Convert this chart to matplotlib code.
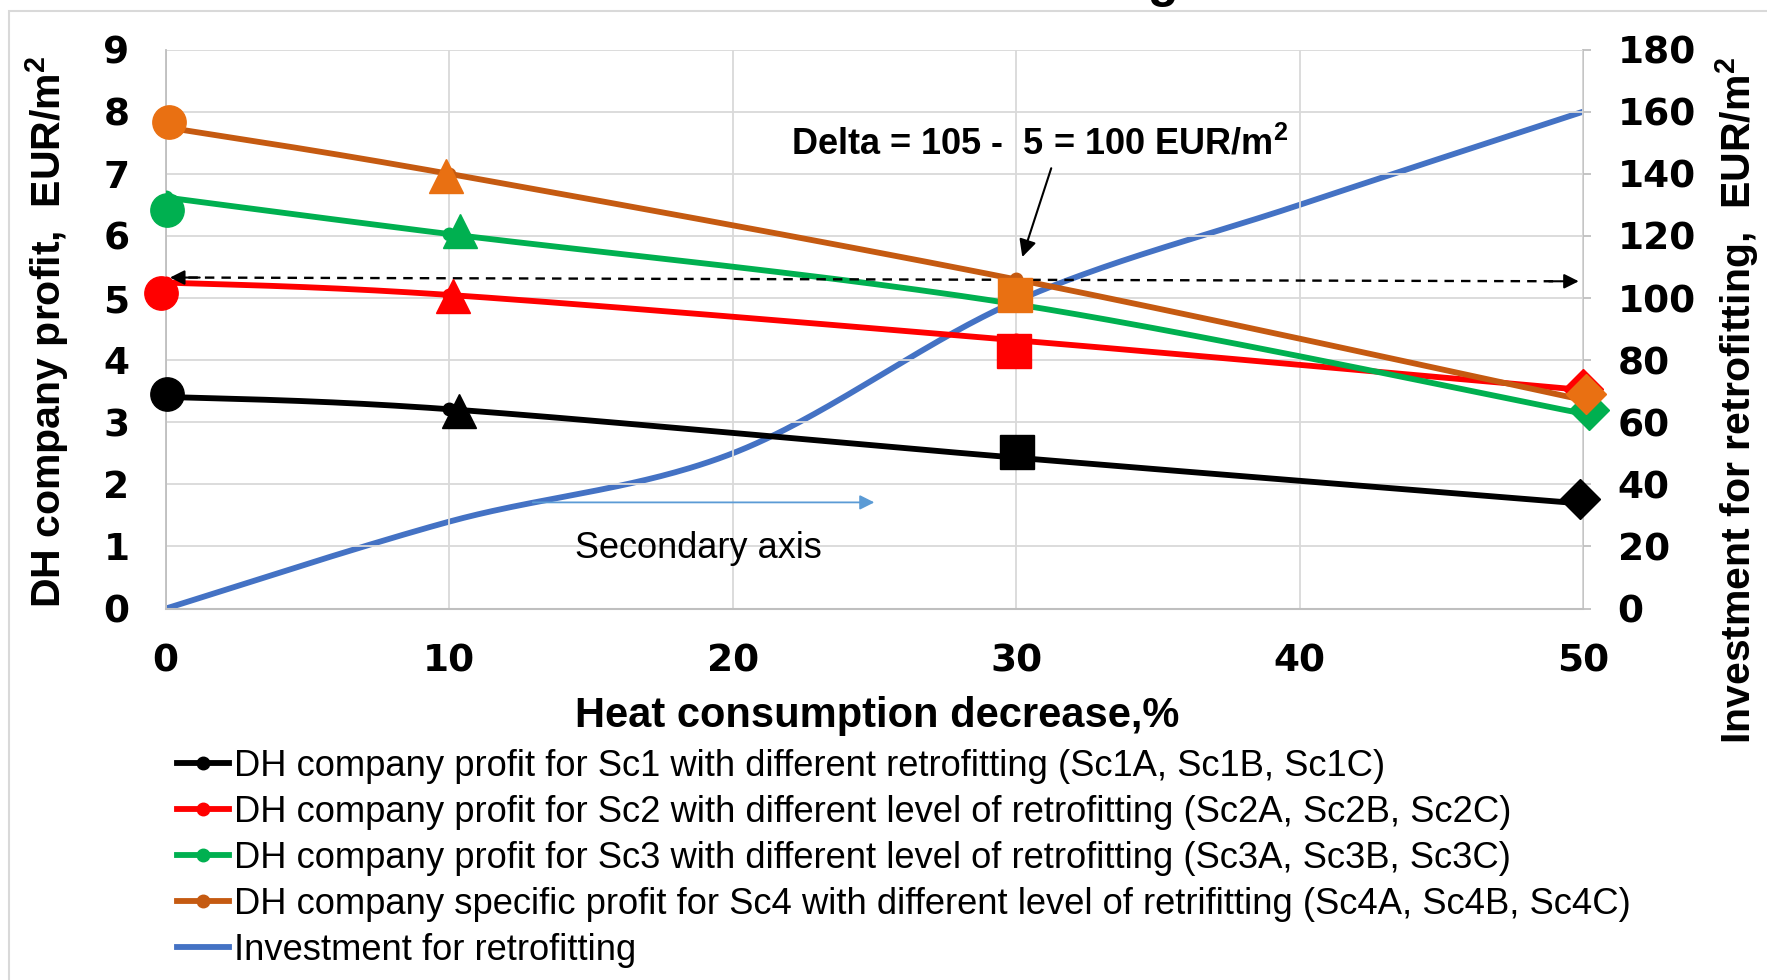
import numpy as np
import matplotlib
matplotlib.use("Agg")
import matplotlib.pyplot as plt
from matplotlib.lines import Line2D
from matplotlib.patches import Rectangle

plt.rcParams['font.family'] = ['Liberation Sans', 'DejaVu Sans']
plt.rcParams['mathtext.fontset'] = 'custom'
plt.rcParams['mathtext.rm'] = 'Liberation Sans'
plt.rcParams['mathtext.bf'] = 'Liberation Sans:bold'

# ---- data -------------------------------------------------------------
heat_decrease = [0, 10, 30, 50]                     # % decrease of heat consumption
profit_sc1 = [3.41, 3.21, 2.43, 1.69]
profit_sc2 = [5.25, 5.05, 4.32, 3.52]
profit_sc3 = [6.62, 6.03, 4.90, 3.14]
profit_sc4 = [7.75, 7.00, 5.30, 3.36]

invest_x = [0, 10, 20, 30, 40, 50]
investment = [0, 28, 50, 99, 130, 160]              # EUR/m2, secondary axis

# highlighted scenario points (A, B, C variants) per series
pts_sc1_x = [0.04, 10.33, 30.05, 49.9]
pts_sc1_y = [3.45, 3.18, 2.52, 1.77]
pts_sc2_x = [-0.16, 10.13, 29.93, 50.0]
pts_sc2_y = [5.08, 5.03, 4.14, 3.54]
pts_sc3_x = [0.04, 10.37, 50.2]
pts_sc3_y = [6.42, 6.08, 3.19]
pts_sc4_x = [0.12, 9.9, 29.97, 50.12]
pts_sc4_y = [7.84, 6.97, 5.05, 3.45]

legend_labels = [
    "DH company profit for Sc1 with different retrofitting (Sc1A, Sc1B, Sc1C)",
    "DH company profit for Sc2 with different level of retrofitting (Sc2A, Sc2B, Sc2C)",
    "DH company profit for Sc3 with different level of retrofitting (Sc3A, Sc3B, Sc3C)",
    "DH company specific profit for Sc4 with different level of retrifitting (Sc4A, Sc4B, Sc4C)",
    "Investment for retrofitting",
]

C_BLACK = "#000000"
C_RED = "#FF0000"
C_GREEN = "#00B050"
C_ORANGE_LINE = "#C55A11"
C_ORANGE_MARK = "#E97012"
C_BLUE = "#4472C4"
C_GRID = "#D9D9D9"


def smooth(x, y, n=60):
    """Piecewise cubic Bezier through the points (spreadsheet-style smoothing)."""
    p = np.column_stack([x, y]).astype(float)
    m = len(p)
    out = []
    t = np.linspace(0, 1, n)[:, None]
    for i in range(m - 1):
        p0 = p[max(i - 1, 0)]
        p1 = p[i]
        p2 = p[i + 1]
        p3 = p[min(i + 2, m - 1)]
        c1 = p1 + (p2 - p0) / 6.0
        c2 = p2 - (p3 - p1) / 6.0
        seg = ((1 - t) ** 3) * p1 + 3 * ((1 - t) ** 2) * t * c1 + 3 * (1 - t) * t ** 2 * c2 + t ** 3 * p2
        out.append(seg if i == 0 else seg[1:])
    out = np.vstack(out)
    return out[:, 0], out[:, 1]


W, H = 1767, 980
fig = plt.figure(figsize=(W / 100, H / 100), dpi=100)
ax = fig.add_axes([165.7 / W, 1 - 608.6 / H, (1583 - 165.7) / W, (608.6 - 49.6) / H])
ax2 = ax.twinx()

# outer chart frame
fig.patches.append(Rectangle((9 / W, -0.2), 1.2, 1.2 - 11 / H, transform=fig.transFigure,
                             fill=False, edgecolor=C_GRID, lw=1.5))

# partially visible heading above the chart
fig.text(1163 / W, 1 + 2.5 / H, "g", ha="center", va="baseline", fontsize=36, fontweight="bold")

# ---- axes styling -------------------------------------------------------
ax.set_xlim(0, 50)
ax.set_ylim(0, 9)
ax2.set_ylim(0, 180)
ax.set_xticks([0, 10, 20, 30, 40, 50])
ax.set_yticks(range(0, 10))
ax2.set_yticks(range(0, 181, 20))
ax.grid(True, color=C_GRID, lw=1.3)
ax.set_axisbelow(True)
for a in (ax, ax2):
    for s in a.spines.values():
        s.set_visible(False)
ax.spines['left'].set_visible(True)
ax.spines['left'].set_color("#BFBFBF")
ax.spines['left'].set_linewidth(1.3)
ax.spines['bottom'].set_visible(True)
ax.spines['bottom'].set_color("#BFBFBF")
ax.spines['bottom'].set_linewidth(1.5)
ax2.spines['right'].set_visible(True)
ax2.spines['right'].set_color("#BFBFBF")
ax2.spines['right'].set_linewidth(1.3)

TICK_FS = 27
ax.tick_params(axis='both', length=0, labelsize=TICK_FS)
ax.tick_params(axis='y', pad=26)
ax.tick_params(axis='x', pad=25)
ax2.tick_params(axis='y', length=6, width=1.3, color="#BFBFBF", labelsize=TICK_FS, pad=19)
for lab in ax.get_xticklabels() + ax.get_yticklabels() + ax2.get_yticklabels():
    lab.set_fontweight("bold")
    lab.set_family(["DejaVu Sans"])

fig.text(47 / W, 1 - 332 / H, r"DH company profit,  EUR/m$^{\mathbf{2}}$", rotation=90,
         ha="center", va="center", fontsize=29.5, fontweight="bold")
fig.text(1737 / W, 1 - 401 / H, r"Investment for retrofitting,  EUR/m$^{\mathbf{2}}$", rotation=90,
         ha="center", va="center", fontsize=29.5, fontweight="bold")
fig.text(877 / W, 1 - 716 / H, "Heat consumption decrease,%",
         ha="center", va="center", fontsize=30, fontweight="bold")

# ---- series -------------------------------------------------------------
LW = 4.2
series = [
    (profit_sc1, C_BLACK),
    (profit_sc2, C_RED),
    (profit_sc3, C_GREEN),
    (profit_sc4, C_ORANGE_LINE),
]
bx, by = smooth(invest_x, investment)
ax2.plot(bx, by, color=C_BLUE, lw=LW, solid_capstyle="round", zorder=3)

for vals, col in series:
    sx, sy = smooth(heat_decrease, vals)
    ax.plot(sx, sy, color=col, lw=LW, zorder=4, solid_capstyle="round")
    ax.plot(heat_decrease, vals, ls="none", marker="o", ms=9, color=col, zorder=4)

ax.set_zorder(ax2.get_zorder() + 1)
ax.patch.set_visible(False)

marker_sizes = {"o": 24, "^": 24, "s": 24, "D": 20}
point_sets = [
    (pts_sc1_x, pts_sc1_y, C_BLACK, ["o", "^", "s", "D"]),
    (pts_sc2_x, pts_sc2_y, C_RED, ["o", "^", "s", "D"]),
    (pts_sc3_x, pts_sc3_y, C_GREEN, ["o", "^", "D"]),
    (pts_sc4_x, pts_sc4_y, C_ORANGE_MARK, ["o", "^", "s", "D"]),
]
for px, py, col, shapes in point_sets:
    for xx, yy, mk in zip(px, py, shapes):
        ax.plot([xx], [yy], ls="none", marker=mk, ms=marker_sizes[mk], color=col,
                mec=col, zorder=6, clip_on=False)

# ---- annotations --------------------------------------------------------
ax.plot([0.8, 49.2], [5.33, 5.27], color="black", lw=1.7, ls=(0, (4, 3)), zorder=5)
ax.annotate("", xy=(0.15, 5.33), xytext=(1.2, 5.33),
            arrowprops=dict(arrowstyle="-|>", color="black", lw=1.5, mutation_scale=22,
                            shrinkA=0, shrinkB=0), zorder=5)
ax.annotate("", xy=(49.85, 5.27), xytext=(48.8, 5.27),
            arrowprops=dict(arrowstyle="-|>", color="black", lw=1.5, mutation_scale=22,
                            shrinkA=0, shrinkB=0), zorder=5)

ax.annotate("", xy=(30.22, 5.66), xytext=(31.24, 7.09),
            arrowprops=dict(arrowstyle="-|>", color="black", lw=1.5, mutation_scale=26,
                            shrinkA=0, shrinkB=0), zorder=7)
ax.text(30.83, 7.47, r"Delta = 105 -  5 = 100 EUR/m$^{\mathbf{2}}$", ha="center", va="center",
        fontsize=26, fontweight="bold", zorder=7)

ax.annotate("", xy=(25.0, 1.71), xytext=(12.95, 1.71),
            arrowprops=dict(arrowstyle="-|>", color="#5B9BD5", lw=1.3, mutation_scale=22,
                            shrinkA=0, shrinkB=0), zorder=5)
ax.text(18.8, 0.96, "Secondary axis", ha="center", va="center", fontsize=26, zorder=5)

# ---- legend -------------------------------------------------------------
handles = [Line2D([], [], color=c, lw=LW, marker="o", ms=9) for _, c in series]
handles.append(Line2D([], [], color=C_BLUE, lw=LW))
fig.legend(handles, legend_labels, loc="upper left", bbox_to_anchor=(177 / W, 1 - 749 / H),
           frameon=False, fontsize=26.2, handlelength=1.44, handletextpad=0.12,
           labelspacing=0.30, borderpad=0, borderaxespad=0)

fig.savefig("out.png", dpi=100)
